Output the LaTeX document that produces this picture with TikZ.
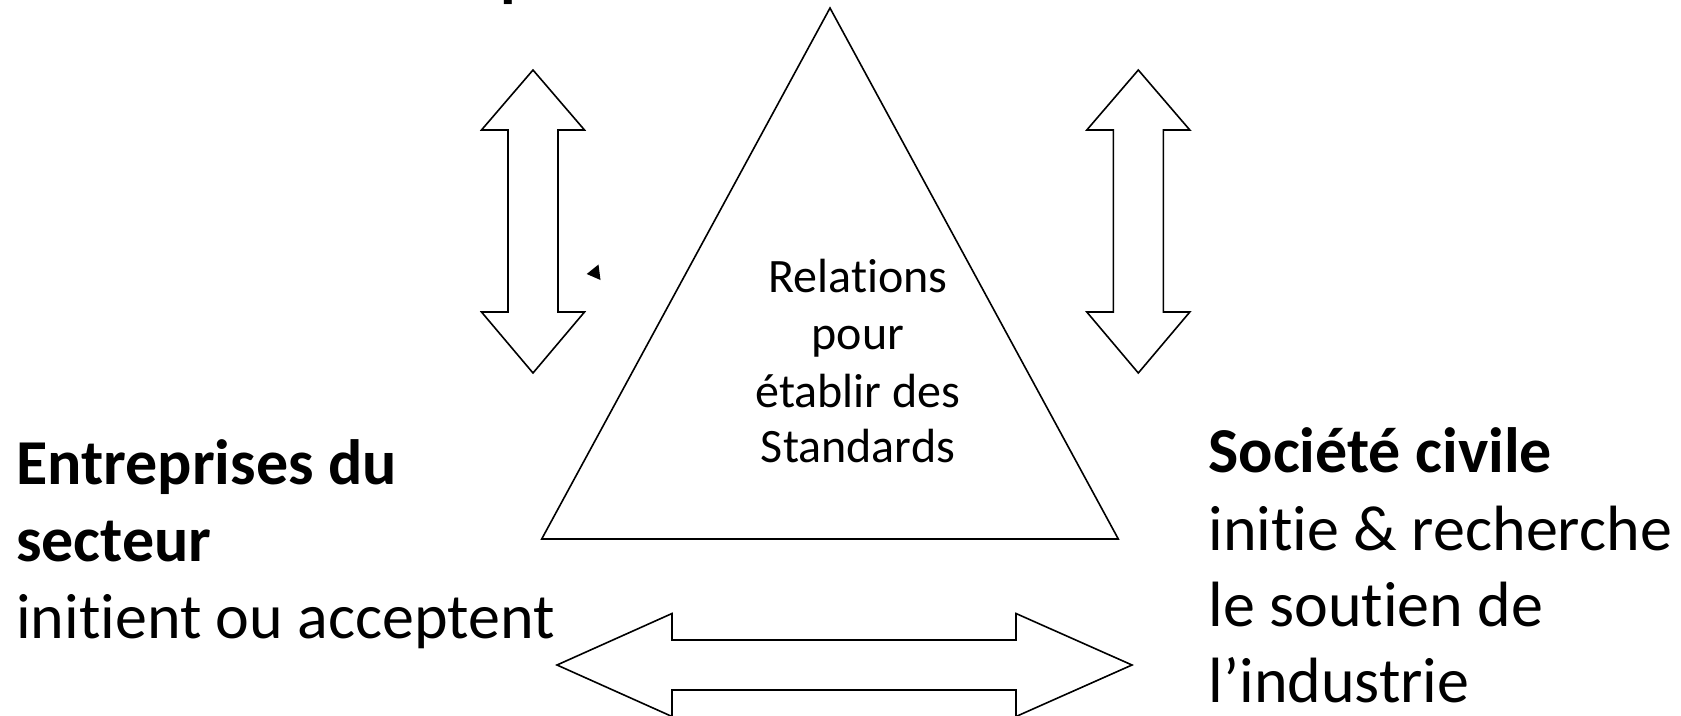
\documentclass[tikz,border=0pt]{standalone}
\usepackage{fontspec}
\setmainfont{Carlito}[Ligatures={TeX,NoCommon},RawFeature={-liga;-clig;-calt}]
\begin{document}
\begin{tikzpicture}[x=1pt,y=-1pt,
  outline/.style={draw=black, line width=1.6pt, line join=miter, fill=white},
  sidetext/.style={inner sep=0pt, anchor=base west, font=\fontsize{64}{76}\selectfont},
  sidebold/.style={sidetext, font=\fontsize{64}{76}\selectfont\bfseries},
  midtext/.style={inner sep=0pt, anchor=base, font=\fontsize{48}{58}\selectfont}]
\useasboundingbox (0,0) rectangle (1681,715);
\clip (0,0) rectangle (1681,715);
% fragment of a title above the picture
\node[sidebold] (toptitle) at (500,-6) {p};
% central triangle
\draw[outline] (830,8) -- (1118.3,539) -- (541.7,539) -- cycle;
% left vertical double arrow
\draw[outline] (533,70) -- (584.5,130) -- (558,130) -- (558,312) -- (584.5,312)
  -- (533,373) -- (481.5,312) -- (508,312) -- (508,130) -- (481.5,130) -- cycle;
% right vertical double arrow
\draw[outline] (1138.3,70) -- (1189.8,130) -- (1163.3,130) -- (1163.3,312) -- (1189.8,312)
  -- (1138.3,373) -- (1086.8,312) -- (1113.3,312) -- (1113.3,130) -- (1086.8,130) -- cycle;
% bottom horizontal double arrow
\draw[outline] (557,665) -- (672,613.5) -- (672,640) -- (1016,640) -- (1016,613.5)
  -- (1132,665) -- (1016,716.5) -- (1016,690) -- (672,690) -- (672,716.5) -- cycle;
% small stray arrowhead
\fill[black] (586.7,274) -- (598.5,264.5) -- (600.5,280) -- cycle;
% centre text
\node[midtext] (m1) at (858,292.5) {Relations};
\node[midtext] (m2) at (858,349) {pour};
\node[midtext] (m3) at (858,407) {établir des};
\node[midtext] (m4) at (858,462.5) {Standards};
% left text
\node[sidebold] (l1) at (16,484.5) {Entreprises du};
\node[sidebold] (l2) at (16,561.5) {secteur};
\node[sidetext] (l3) at (16,638) {initient ou acceptent};
% right text
\node[sidebold] (r1) at (1208.3,472) {Société civile};
\node[sidetext] (r2) at (1208.3,550) {initie \& recherche};
\node[sidetext] (r3) at (1208.3,626) {le soutien de};
\node[sidetext] (r4) at (1208.3,702) {l’industrie};
\end{tikzpicture}
\end{document}
